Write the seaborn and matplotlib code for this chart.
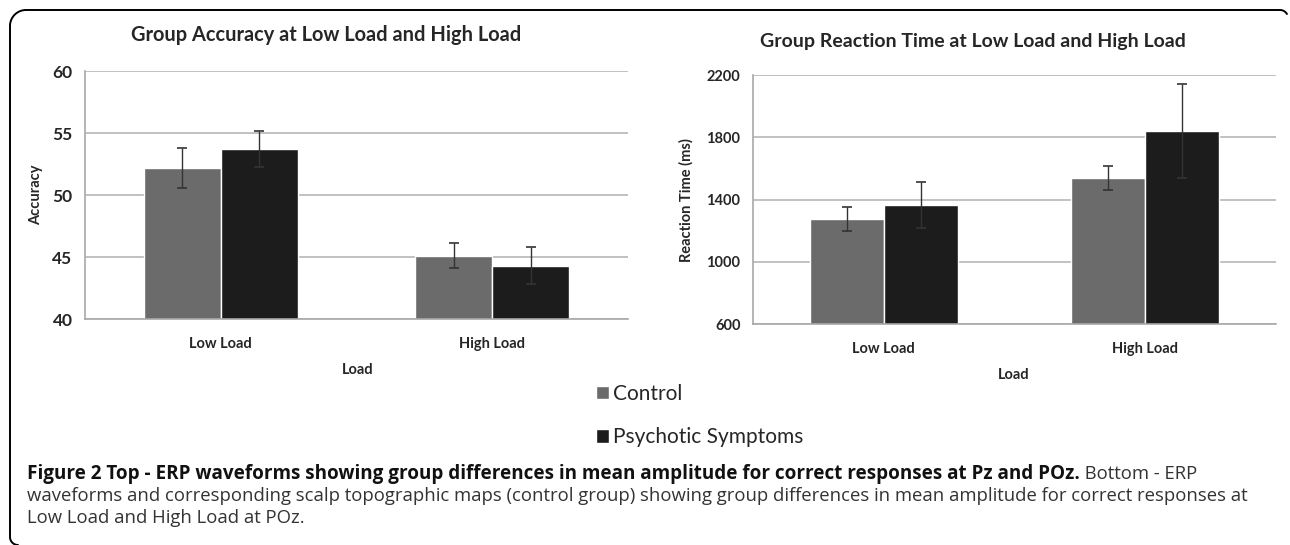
import matplotlib
matplotlib.use("Agg")
import matplotlib.pyplot as plt
from matplotlib.lines import Line2D
import numpy as np
import pandas as pd
import seaborn as sns

# values
loads = ["Low Load", "High Load"]
groups = ["Control", "Psychotic Symptoms"]
acc_control = [52.2, 45.1]
acc_psychotic = [53.7, 44.3]
acc_err_control = [1.6, 1.0]
acc_err_psychotic = [1.45, 1.5]
rt_control = [1273, 1536]
rt_psychotic = [1365, 1840]
rt_err_control = [78, 77]
rt_err_psychotic = [147, 305]
acc_ticks = [40, 45, 50, 55, 60]
rt_ticks = [600, 1000, 1400, 1800, 2200]

palette = {"Control": "#6b6b6b", "Psychotic Symptoms": "#1c1c1c"}
W, H = 1290, 545

sns.set_style("white")
plt.rcParams["font.family"] = ["Lato", "DejaVu Sans"]


def long_frame(control, psychotic):
    return pd.DataFrame({
        "Load": loads * 2,
        "Group": [groups[0]] * 2 + [groups[1]] * 2,
        "Value": list(control) + list(psychotic),
    })


def px_axes(fig, x0, y0, x1, y1):
    # pixel box (top-left origin) -> figure fraction
    return fig.add_axes([x0 / W, 1 - y1 / H, (x1 - x0) / W, (y1 - y0) / H])


def draw_panel(ax, df, errs, ticks, ytick_size):
    sns.barplot(df, x="Load", y="Value", hue="Group", order=loads, hue_order=groups,
                palette=palette, width=0.566, errorbar=None, saturation=1,
                legend=True, ax=ax)
    for cont, err in zip(ax.containers, errs):
        xs = [p.get_x() + p.get_width() / 2 for p in cont]
        ys = [p.get_height() + p.get_y() for p in cont]
        ax.errorbar(xs, ys, yerr=err, fmt="none", ecolor="#333333",
                    elinewidth=1.0, capsize=3.5, capthick=1.2, zorder=5)
    ax.set_ylim(ticks[0], ticks[-1])
    ax.set_yticks(ticks)
    ax.set_xlim(-0.5, 1.5)
    ax.yaxis.grid(True, color="#bcbcbc", lw=1.3)
    ax.set_axisbelow(True)
    for s in ["top", "right"]:
        ax.spines[s].set_visible(False)
    for s in ["left", "bottom"]:
        ax.spines[s].set_color("#a8a8a8")
        ax.spines[s].set_linewidth(1.2)
    ax.set_xticks([-0.5, 0.5, 1.5], minor=True)
    ax.tick_params(axis="x", which="major", length=0, pad=13, labelsize=10.5)
    ax.tick_params(axis="x", which="minor", length=4, color="#a8a8a8", direction="out")
    ax.tick_params(axis="y", length=4, color="#a8a8a8", direction="out", pad=5,
                   labelsize=ytick_size)
    for lab in ax.get_xticklabels() + ax.get_yticklabels():
        lab.set_fontweight("bold")
    ax.set_xlabel("")
    ax.set_ylabel("")


fig = plt.figure(figsize=(W / 100, H / 100), dpi=100)

ax1 = px_axes(fig, 85, 71, 628, 319)
draw_panel(ax1, long_frame(acc_control, acc_psychotic),
           [acc_err_control, acc_err_psychotic], acc_ticks, 12.5)
handles, labels = ax1.get_legend_handles_labels()
ax1.get_legend().remove()

ax2 = px_axes(fig, 753, 75, 1276, 324)
draw_panel(ax2, long_frame(rt_control, rt_psychotic),
           [rt_err_control, rt_err_psychotic], rt_ticks, 10.5)
ax2.get_legend().remove()


def ftext(x, y, s, **kw):
    return fig.text(x / W, 1 - y / H, s, **kw)


ftext(326, 35, "Group Accuracy at Low Load and High Load", ha="center", va="center",
      fontsize=14.4, fontweight="bold")
ftext(973, 42, "Group Reaction Time at Low Load and High Load", ha="center", va="center",
      fontsize=14, fontweight="bold")
ftext(36, 195, "Accuracy", rotation=90, ha="center", va="center", fontsize=10.5,
      fontweight="bold")
ftext(686, 200, "Reaction Time (ms)", rotation=90, ha="center", va="center",
      fontsize=10.5, fontweight="bold")
ftext(358, 370, "Load", ha="center", va="center", fontsize=10.5, fontweight="bold")
ftext(1014, 375, "Load", ha="center", va="center", fontsize=10.5, fontweight="bold")

fig.legend(handles, labels, loc="upper left", bbox_to_anchor=(596 / W, 1 - 384 / H),
           frameon=False, fontsize=15, handlelength=0.62, handleheight=0.62,
           handletextpad=0.2, labelspacing=1.12, borderpad=0, borderaxespad=0)

# caption
cap_font = ["Open Sans", "DejaVu Sans"]
bold_part = ("Figure 2 Top - ERP waveforms showing group differences in mean amplitude "
             "for correct responses at Pz and POz.")
t1 = ftext(27, 474, bold_part, ha="left", va="center", fontsize=13.6, fontweight="bold",
           family=cap_font, color="#111111")
fig.canvas.draw()
bb = t1.get_window_extent()
fig.text(bb.x1 / W, 1 - 474 / H, " Bottom - ERP", ha="left", va="center", fontsize=13.3,
         family=cap_font, color="#333333")
ftext(27, 496, "waveforms and corresponding scalp topographic maps (control group) showing "
      "group differences in mean amplitude for correct responses at", ha="left",
      va="center", fontsize=13.3, family=cap_font, color="#333333")
ftext(27, 518, "Low Load and High Load at POz.", ha="left", va="center", fontsize=13.3,
      family=cap_font, color="#333333")

# rounded frame around the figure panel
def arc(cx, cy, r, a0, a1):
    a = np.radians(np.linspace(a0, a1, 20))
    return cx + r * np.cos(a), cy + r * np.sin(a)

xs, ys = [], []
bx, by = arc(18, 537, 8, 90, 180)
xs += list(bx); ys += list(by)
tx, ty = arc(26, 26, 16, 180, 270)
xs += list(tx); ys += list(ty)
rx, ry = arc(1280, 18, 8, 270, 330)
xs += [1280] + list(rx); ys += [10] + list(ry)
fig.add_artist(Line2D(np.array(xs), H - np.array(ys), transform=None, color="black",
                      lw=1.4, solid_capstyle="round"))

fig.savefig("out.png", dpi=100)
